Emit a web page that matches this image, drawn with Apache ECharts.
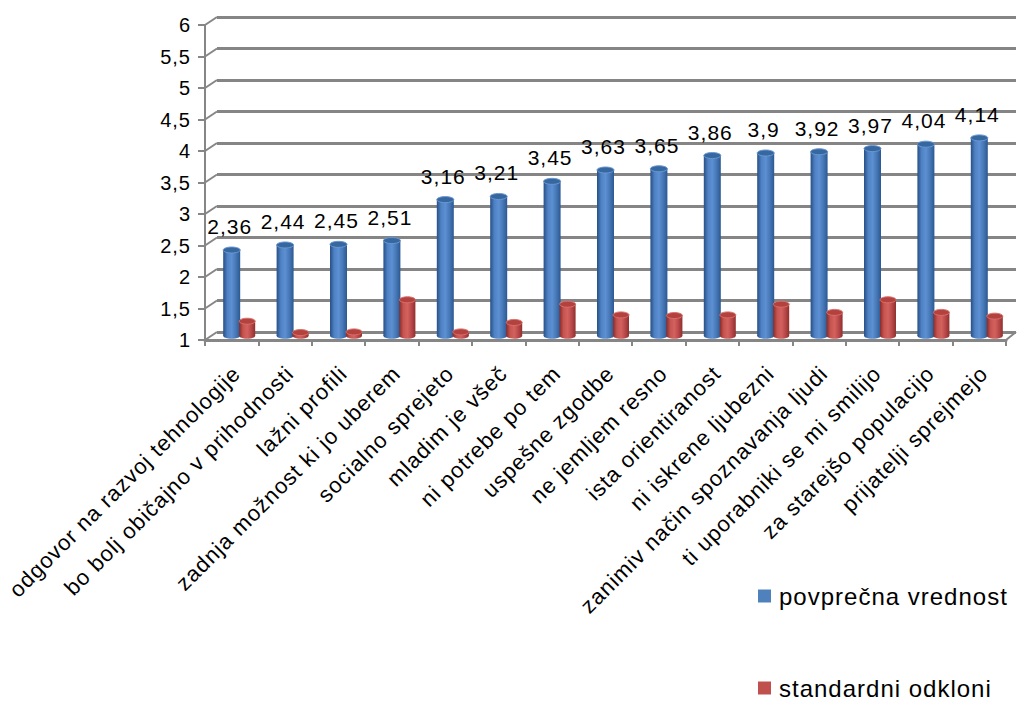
<!DOCTYPE html>
<html>
<head>
<meta charset="utf-8">
<script src="https://cdn.jsdelivr.net/npm/echarts/dist/echarts.min.js"></script>
<style>
  html, body { margin: 0; padding: 0; background: #ffffff; }
  #chart { width: 1018px; height: 702px; }
  #chart text { letter-spacing: 1px; }
</style>
</head>
<body>
<div id="chart"></div>
<script>
// Survey statements, sorted by mean score
const categories = [
  'odgovor na razvoj tehnologije',
  'bo bolj običajno v prihodnosti',
  'lažni profili',
  'zadnja možnost ki jo uberem',
  'socialno sprejeto',
  'mladim je všeč',
  'ni potrebe po tem',
  'uspešne zgodbe',
  'ne jemljem resno',
  'ista orientiranost',
  'ni iskrene ljubezni',
  'zanimiv način spoznavanja ljudi',
  'ti uporabniki se mi smilijo',
  'za starejšo populacijo',
  'prijatelji sprejmejo'
];
const meanValues = [2.36, 2.44, 2.45, 2.51, 3.16, 3.21, 3.45, 3.63, 3.65, 3.86, 3.9, 3.92, 3.97, 4.04, 4.14];
const stdValues  = [1.23, 1.05, 1.06, 1.57, 1.06, 1.21, 1.50, 1.33, 1.32, 1.33, 1.50, 1.37, 1.57, 1.37, 1.31];
const seriesNames = ['povprečna vrednost', 'standardni odkloni'];
const yTicks = [1, 1.5, 2, 2.5, 3, 3.5, 4, 4.5, 5, 5.5, 6];

const FONT = 'Arial, "Liberation Sans", sans-serif';
const AXIS_GREY = '#868686';
const comma = v => String(v).replace('.', ',');

const chart = echarts.init(document.getElementById('chart'), null, { renderer: 'svg' });

function hGrad(stops) {
  return new echarts.graphic.LinearGradient(0, 0, 1, 0,
    stops.map((c, i) => ({ offset: i / (stops.length - 1), color: c })));
}
const blueBody = hGrad(['#274f85', '#4f82c4', '#5d90d2', '#4677b6', '#2b5891']);
const redBody  = hGrad(['#8a2b29', '#c65551', '#d3625e', '#b9484a', '#8f302d']);

// Cylinder-shaped column drawn from the axis floor up to the value
function cylinder(offset, halfW, body, topFill, topStroke, withLabel) {
  return function (params, api) {
    const idx = api.value(0);
    const val = api.value(1);
    const top = api.coord([idx, val]);
    const base = api.coord([idx, 1]);
    const cx = top[0] + offset;
    const ry = 3;
    const children = [
      { type: 'ellipse', shape: { cx: cx, cy: base[1], rx: halfW, ry: ry }, style: { fill: body } },
      { type: 'rect', shape: { x: cx - halfW, y: top[1], width: halfW * 2, height: base[1] - top[1] }, style: { fill: body } },
      { type: 'ellipse', shape: { cx: cx, cy: top[1], rx: halfW, ry: ry }, style: { fill: topFill, stroke: topStroke, lineWidth: 1 } }
    ];
    if (withLabel) {
      children.push({
        type: 'text', x: cx - 2, y: top[1] - 13,
        style: {
          text: comma(val), fill: '#000', fontSize: 21, fontFamily: FONT,
          align: 'center', verticalAlign: 'bottom', textAlign: 'center', textVerticalAlign: 'bottom'
        }
      });
    }
    return { type: 'group', children: children };
  };
}

// Depth edges joining the front value axis to the back wall
function depthEdges(params, api) {
  const v = api.value(1);
  const cs = params.coordSys;
  const y = api.coord([0, v])[1];
  const lines = [{ type: 'line', shape: { x1: cs.x, y1: y, x2: cs.x + 12, y2: y - 8 }, style: { stroke: AXIS_GREY, lineWidth: 2 } }];
  if (v === 1) {
    const xr = cs.x + cs.width;
    lines.push({ type: 'line', shape: { x1: xr, y1: y, x2: xr + 10, y2: y - 8 }, style: { stroke: AXIS_GREY, lineWidth: 2 } });
  }
  return { type: 'group', children: lines };
}

const legendBase = {
  orient: 'vertical', left: 753,
  itemWidth: 13, itemHeight: 13, icon: 'rect',
  textStyle: { color: '#000', fontSize: 24, fontFamily: FONT, padding: [0, 0, 0, 3] }
};

const option = {
  backgroundColor: '#ffffff',
  animation: false,
  legend: [
    Object.assign({}, legendBase, { top: 579, data: [seriesNames[0]] }),
    Object.assign({}, legendBase, { top: 671, data: [seriesNames[1]] })
  ],
  grid: [
    { left: 217, right: 2, top: 17, height: 315, outerBoundsMode: 'none' },   // back wall
    { left: 205, width: 801, top: 25, height: 315, outerBoundsMode: 'none' }, // front axes
    { left: 210, width: 801, top: 20.7, height: 315, outerBoundsMode: 'none' }, // columns
    { left: 202, width: 801, top: 25, height: 315, outerBoundsMode: 'none' }  // category labels
  ],
  xAxis: [
    { gridIndex: 0, type: 'category', data: categories, show: false },
    {
      gridIndex: 1, type: 'category', data: categories, boundaryGap: true,
      axisLine: { show: true, lineStyle: { color: AXIS_GREY, width: 3 } },
      axisTick: { show: true, interval: 0, length: 6, lineStyle: { color: AXIS_GREY, width: 2 } },
      axisLabel: { show: false }, splitLine: { show: false }
    },
    { gridIndex: 2, type: 'category', data: categories, show: false },
    {
      gridIndex: 3, type: 'category', data: categories, boundaryGap: true,
      axisLine: { show: false }, axisTick: { show: false },
      axisLabel: {
        show: true, interval: 0, rotate: 45, margin: 22,
        align: 'right', verticalAlign: 'top',
        color: '#000', fontSize: 22, fontFamily: FONT
      },
      splitLine: { show: false }
    }
  ],
  yAxis: [
    {
      gridIndex: 0, type: 'value', min: 1, max: 6, interval: 0.5,
      axisLine: { show: false }, axisTick: { show: false }, axisLabel: { show: false },
      splitLine: { show: true, lineStyle: { color: '#858585', width: 3 } }
    },
    {
      gridIndex: 1, type: 'value', min: 1, max: 6, interval: 0.5,
      axisLine: { show: true, lineStyle: { color: AXIS_GREY, width: 2 } },
      axisTick: { show: true, length: 7, lineStyle: { color: AXIS_GREY, width: 2 } },
      axisLabel: { color: '#000', fontSize: 20, fontFamily: FONT, margin: 14, formatter: comma },
      splitLine: { show: false }
    },
    { gridIndex: 2, type: 'value', min: 1, max: 6, interval: 0.5, show: false, splitLine: { show: false } },
    { gridIndex: 3, type: 'value', min: 1, max: 6, interval: 0.5, show: false, splitLine: { show: false } }
  ],
  series: [
    {
      type: 'custom', name: 'depth', xAxisIndex: 1, yAxisIndex: 1,
      data: yTicks.map(v => [0, v]), renderItem: depthEdges, silent: true, z: 1
    },
    {
      type: 'custom', name: seriesNames[0], xAxisIndex: 2, yAxisIndex: 2,
      itemStyle: { color: '#4F81BD' },
      data: meanValues.map((v, i) => [i, v]),
      renderItem: cylinder(-5, 8.5, blueBody, '#36679f', '#6a98d4', true), z: 3
    },
    {
      type: 'custom', name: seriesNames[1], xAxisIndex: 2, yAxisIndex: 2,
      itemStyle: { color: '#C0504D' },
      data: stdValues.map((v, i) => [i, v]),
      renderItem: cylinder(10.5, 8, redBody, '#b3423f', '#d9706c', false), z: 3
    }
  ]
};
chart.setOption(option);
</script>
</body>
</html>
